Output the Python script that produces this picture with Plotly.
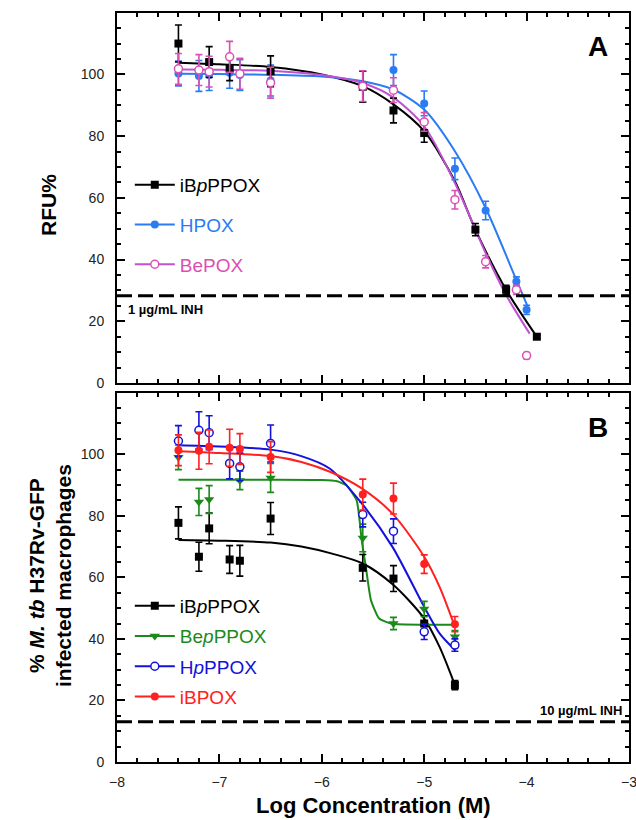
import plotly.graph_objects as go

# ---------------- Panel A data (RFU%) ----------------
A_ibp_x = [-7.4, -7.1, -6.9, -6.5, -5.6, -5.3, -5.0, -4.5, -4.2, -3.9]
A_ibp_y = [110, 104, 102, 101, 96, 88.3, 81, 49.7, 30.2, 15]
A_ibp_err = [6, 5, 4, 5, 5, 4, 3, 2, 1.5, 0.5]

A_hp_x = [-7.4, -7.2, -7.1, -6.9, -6.8, -6.5, -5.6, -5.3, -5.0, -4.7, -4.4, -4.1, -4.0]
A_hp_y = [100.3, 99.5, 99.8, 100.5, 99.8, 98, 96, 101.4, 90.6, 69.4, 55.9, 32.9, 23.7]
A_hp_err = [4, 5, 5, 5, 5, 5, 5, 5, 4, 3.5, 3, 1.5, 1.5]

A_be_x = [-7.4, -7.2, -7.1, -6.9, -6.8, -6.5, -5.6, -5.3, -5.0, -4.7, -4.4, -4.1, -4.0]
A_be_y = [101.8, 101.4, 100.9, 105.7, 100.2, 97.3, 96.2, 94.9, 84.6, 59.4, 39.3, 30.2, 8.9]
A_be_err = [5, 5, 5, 5, 5, 5, 5, 4, 3, 3, 2, 1.5, 1]

# fitted curves
A_ibp_fit_x = [-7.4, -7.0, -6.5, -6.0, -5.6, -5.3, -5.0, -4.7, -4.5, -4.2, -3.9]
A_ibp_fit_y = [103.8, 103.3, 102.4, 100.0, 96.2, 90.3, 81.6, 65.4, 49.7, 30.2, 15]
A_be_fit_x = [-7.4, -7.0, -6.5, -6.0, -5.6, -5.3, -5.0, -4.7, -4.4, -4.2, -3.97]
A_be_fit_y = [101.6, 101.5, 101.2, 99.8, 97.2, 92.5, 83.2, 64.8, 42.1, 28.5, 16]
A_hp_fit_x = [-7.4, -7.0, -6.5, -6.0, -5.6, -5.3, -5.0, -4.7, -4.4, -4.1, -3.99]
A_hp_fit_y = [100.2, 100.1, 99.9, 99.3, 97.8, 95.1, 88.6, 75.1, 56.7, 33.4, 24.8]

A_inh = 28.3

# ---------------- Panel B data (% infected macrophages) ----------------
B_x = [-7.4, -7.2, -7.1, -6.9, -6.8, -6.5, -5.6, -5.3, -5.0, -4.7]
B_ibp_y = [77.7, 66.7, 75.9, 65.8, 65.4, 79.1, 63.1, 59.6, 45, 25]
B_ibp_err = [5.2, 4.7, 5, 4.5, 5, 5.2, 4.3, 4.2, 2.5, 1.5]

B_bep_x = [-7.4, -7.2, -7.1, -6.8, -6.5, -5.6, -5.3, -5.0, -4.7]
B_bep_y = [99, 84.5, 85.3, 91.5, 92.3, 72.8, 45, 49.7, 40.7]
B_bep_err = [4, 4.4, 4.5, 3, 4.7, 4.5, 2, 2.5, 2]

B_hp_y = [104.3, 107.8, 107, 97, 95.9, 103.5, 80.4, 75, 42.3, 38]
B_hp_err = [5, 6, 5.5, 5, 4.5, 6, 4, 4, 2.5, 2]

B_ib_y = [101.3, 101.1, 102.4, 102.1, 101.7, 99.1, 86.9, 85.6, 64.3, 44.8]
B_ib_err = [5, 6, 5.5, 6, 5, 5, 5, 5, 3, 2.5]

B_ibp_fit_x = [-7.4, -7.0, -6.5, -6.2, -5.9, -5.6, -5.3, -5.0, -4.85, -4.7]
B_ibp_fit_y = [72.1, 71.9, 71.3, 70.0, 67.7, 64.5, 57.5, 46.6, 37.4, 25]
B_bep_fit_x = [-7.4, -6.5, -6.0, -5.85, -5.76, -5.66, -5.61, -5.57, -5.52, -5.44, -5.31, -5.0, -4.7]
B_bep_fit_y = [91.7, 91.7, 91.6, 91.2, 89.9, 85, 72, 63.4, 52.6, 46.6, 44.9, 44.6, 44.6]
B_hp_fit_x = [-7.4, -7.0, -6.5, -6.2, -5.92, -5.61, -5.31, -5.0, -4.85, -4.7]
B_hp_fit_y = [102.9, 102.5, 101.5, 99.4, 95.3, 84, 69.9, 50.4, 41.8, 36.4]
B_ib_fit_x = [-7.4, -7.0, -6.5, -6.2, -5.92, -5.61, -5.31, -5.0, -4.85, -4.7]
B_ib_fit_y = [101, 100.4, 99.4, 97.5, 94.3, 88.9, 80.7, 66.7, 56.9, 43.9]

B_inh = 13.1

# ---------------- styles ----------------
BLACK = "#000000"
A_BLUE = "#2b7bf3"
A_PINK = "#dc4fb2"
A_VIOLET = "#c052d2"
B_GREEN = "#1b8a1b"
B_BLUE = "#1212dc"
B_RED = "#ff2020"

FONT = "Arial, Liberation Sans, Helvetica, sans-serif"

fig = go.Figure()


def curve(x, y, color, xa, ya, smooth=0.8):
    fig.add_trace(go.Scatter(x=x, y=y, mode="lines", xaxis=xa, yaxis=ya,
                             line=dict(color=color, width=2, shape="spline", smoothing=smooth),
                             showlegend=False, hoverinfo="skip"))


def points(x, y, err, color, symbol, xa, ya, fill=None, size=8):
    fig.add_trace(go.Scatter(
        x=x, y=y, mode="markers", xaxis=xa, yaxis=ya, showlegend=False,
        marker=dict(symbol=symbol, size=size, color=fill if fill else color,
                    line=dict(color=color, width=1.5 if fill else 0)),
        error_y=dict(type="data", array=err, color=color, thickness=1.6, width=3.5)))


def legend_entry(name, color, symbol, legend, linecolor=None, fill=None, size=8):
    fig.add_trace(go.Scatter(
        x=[None], y=[None], mode="lines+markers", name=name, legend=legend,
        legendgroup=name,
        line=dict(color=linecolor or color, width=2),
        marker=dict(symbol=symbol, size=size, color=fill if fill else color,
                    line=dict(color=color, width=1.5 if fill else 0))))


# Panel A
curve(A_ibp_fit_x, A_ibp_fit_y, BLACK, "x", "y")
curve(A_hp_fit_x, A_hp_fit_y, A_BLUE, "x", "y")
curve(A_be_fit_x, A_be_fit_y, A_VIOLET, "x", "y")
points(A_hp_x, A_hp_y, A_hp_err, A_BLUE, "circle", "x", "y")
points(A_ibp_x, A_ibp_y, A_ibp_err, BLACK, "square", "x", "y")
points(A_be_x, A_be_y, A_be_err, A_PINK, "circle", "x", "y", fill="white")

# Panel B
curve(B_ibp_fit_x, B_ibp_fit_y, BLACK, "x2", "y2")
curve(B_bep_fit_x, B_bep_fit_y, B_GREEN, "x2", "y2", smooth=0.5)
curve(B_hp_fit_x, B_hp_fit_y, B_BLUE, "x2", "y2")
curve(B_ib_fit_x, B_ib_fit_y, B_RED, "x2", "y2")
points(B_x, B_ibp_y, B_ibp_err, BLACK, "square", "x2", "y2")
points(B_bep_x, B_bep_y, B_bep_err, B_GREEN, "triangle-down", "x2", "y2", size=9)
points(B_x, B_hp_y, B_hp_err, B_BLUE, "circle", "x2", "y2", fill="white")
points(B_x, B_ib_y, B_ib_err, B_RED, "circle", "x2", "y2")

# legend entries
legend_entry("iB<i>p</i>PPOX", BLACK, "square", "legend")
legend_entry('<span style="color:%s">HPOX</span>' % A_BLUE, A_BLUE, "circle", "legend")
legend_entry('<span style="color:%s">BePOX</span>' % A_PINK, A_PINK, "circle", "legend",
             linecolor=A_VIOLET, fill="white")

legend_entry("iB<i>p</i>PPOX ", BLACK, "square", "legend2")
legend_entry('<span style="color:%s">Be<i>p</i>PPOX</span>' % B_GREEN, B_GREEN, "triangle-down", "legend2", size=9)
legend_entry('<span style="color:%s">H<i>p</i>PPOX</span>' % B_BLUE, B_BLUE, "circle", "legend2", fill="white")
legend_entry('<span style="color:%s">iBPOX</span>' % B_RED, B_RED, "circle", "legend2")

W, H = 636, 820
L, R, T, B = 117, 7, 13, 58
plot_h = H - T - B
A_top_px, A_bot_px = 13, 383
B_top_px, B_bot_px = 393, 762


def py(px):
    return (H - B - px) / plot_h


xcommon = dict(range=[-8, -3], tick0=-8, dtick=1, ticks="inside", ticklen=8, tickwidth=1.5,
               tickcolor="black", showline=True, linewidth=2, linecolor="black",
               mirror="ticks", showgrid=False, zeroline=False, automargin=False,
               ticklabeloverflow="allow",
               minor=dict(dtick=0.2, ticks="inside", ticklen=4, tickwidth=1.5, tickcolor="black",
                          showgrid=False),
               tickfont=dict(size=14, color="#222", family=FONT))
ycommon = dict(range=[0, 119.9], tick0=0, dtick=20, ticks="inside", ticklen=8, tickwidth=1.5,
               tickcolor="black", showline=True, linewidth=2, linecolor="black",
               mirror="ticks", showgrid=False, zeroline=False, automargin=False,
               minor=dict(dtick=5, ticks="inside", ticklen=4, tickwidth=1.5, tickcolor="black",
                          showgrid=False),
               tickfont=dict(size=14, color="#222", family=FONT), ticklabelstandoff=8)

fig.update_layout(
    width=W, height=H, autosize=False,
    margin=dict(l=L, r=R, t=T, b=B),
    paper_bgcolor="white", plot_bgcolor="white",
    font=dict(family=FONT, color="black"),
    xaxis=dict(domain=[0, 1], anchor="y", showticklabels=False, **xcommon),
    yaxis=dict(domain=[py(A_bot_px), 1], anchor="x", **ycommon),
    xaxis2=dict(domain=[0, 1], anchor="y2", showticklabels=True, ticklabelstandoff=6, **xcommon),
    yaxis2=dict(domain=[0, py(B_top_px)], anchor="x2", **ycommon),
    legend=dict(x=0.025, y=py(166), xanchor="left", yanchor="top",
                bgcolor="rgba(0,0,0,0)", font=dict(size=19, family=FONT, color="black"),
                tracegroupgap=12, itemwidth=40),
    legend2=dict(x=0.025, y=py(587), xanchor="left", yanchor="top",
                 bgcolor="rgba(0,0,0,0)", font=dict(size=19, family=FONT, color="black"),
                 tracegroupgap=2.5, itemwidth=40),
    showlegend=True,
)

# INH reference lines
fig.add_shape(type="line", xref="x domain", yref="y", x0=0, x1=1, y0=A_inh, y1=A_inh,
              line=dict(color="black", width=3, dash="15px,6px"))
fig.add_shape(type="line", xref="x2 domain", yref="y2", x0=0, x1=1, y0=B_inh, y1=B_inh,
              line=dict(color="black", width=3, dash="15px,6px"))

fig.add_annotation(text="<b>1 µg/mL INH</b>", xref="x domain", yref="y", x=0.018, y=A_inh,
                   xanchor="left", yanchor="top", yshift=-4, showarrow=False,
                   font=dict(size=13, family=FONT, color="black"))
fig.add_annotation(text="<b>10 µg/mL INH</b>", xref="x2 domain", yref="y2", x=0.99, y=B_inh,
                   xanchor="right", yanchor="bottom", yshift=2, showarrow=False,
                   font=dict(size=13, family=FONT, color="black"))

fig.add_annotation(text="<b>A</b>", xref="x domain", yref="paper", x=0.94, y=py(47),
                   xanchor="center", yanchor="middle", showarrow=False,
                   font=dict(size=28, family=FONT, color="black"))
fig.add_annotation(text="<b>B</b>", xref="x2 domain", yref="paper", x=0.94, y=py(427),
                   xanchor="center", yanchor="middle", showarrow=False,
                   font=dict(size=28, family=FONT, color="black"))

# axis titles
fig.add_annotation(text="<b>RFU%</b>", xref="paper", yref="paper", x=0, xshift=-(L - 49),
                   y=py(205), textangle=-90, xanchor="center", yanchor="middle",
                   showarrow=False, font=dict(size=21, family=FONT, color="black"))
fig.add_annotation(text="<b>% <i>M. tb</i> H37Rv-GFP<br>infected macrophages</b>",
                   xref="paper", yref="paper", x=0, xshift=-(L - 50),
                   y=py(576), textangle=-90, xanchor="center", yanchor="middle",
                   showarrow=False, font=dict(size=21, family=FONT, color="black"))
fig.add_annotation(text="<b>Log Concentration (M)</b>", xref="paper", yref="paper",
                   x=0.5, y=py(805), xanchor="center", yanchor="middle",
                   showarrow=False, font=dict(size=22, family=FONT, color="black"))

fig.write_html(
    "out.html",
    config={"displayModeBar": False},
    post_script="document.documentElement.style.margin='0';document.body.style.margin='0';"
                "document.body.style.overflow='hidden';window.dispatchEvent(new Event('resize'));",
)
